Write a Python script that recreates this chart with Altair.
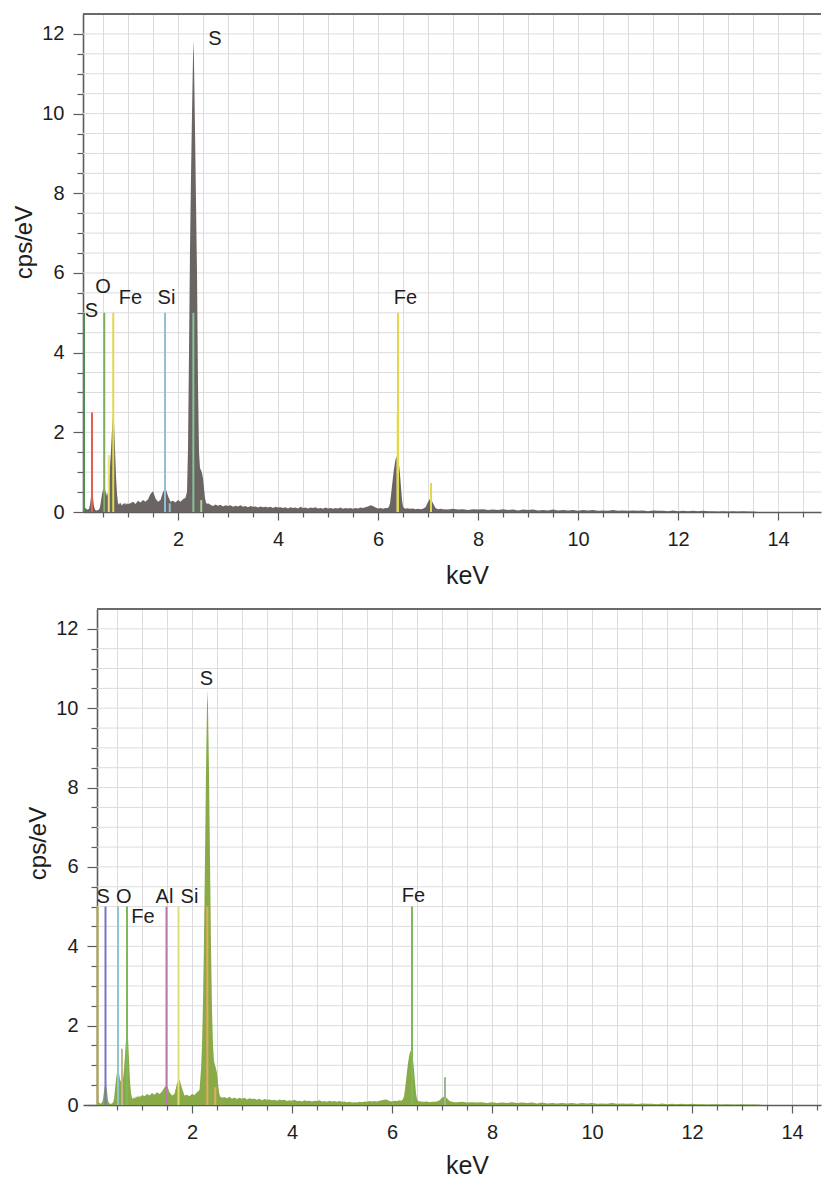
import altair as alt
import pandas as pd

# ---------------- energy channels (keV) ----------------
E_A = [0.10, 0.12, 0.14, 0.16, 0.18, 0.20, 0.22, 0.24, 0.26, 0.28, 0.30, 0.32, 0.34, 0.36, 0.38,
       0.40, 0.42, 0.44, 0.46, 0.48, 0.50, 0.52, 0.54, 0.56, 0.58, 0.60, 0.62, 0.64, 0.66, 0.68,
       0.70, 0.72, 0.74, 0.76, 0.78, 0.80, 0.82, 0.84, 0.86, 0.88, 0.90, 0.92, 0.94, 0.96, 0.98, 1.00]
E_B = [1.05, 1.10, 1.15, 1.20, 1.25, 1.30, 1.35, 1.40, 1.45, 1.50, 1.55, 1.60, 1.65, 1.70, 1.75,
       1.80, 1.85, 1.90, 1.95, 2.00, 2.05, 2.10, 2.15]
E_C = [2.18, 2.20, 2.22, 2.24, 2.26, 2.28, 2.30, 2.31, 2.32, 2.34, 2.36, 2.38, 2.40, 2.42, 2.44,
       2.46, 2.48, 2.50, 2.52, 2.54, 2.56, 2.58, 2.60]
E_D = [2.65, 2.70, 2.75, 2.80, 2.85, 2.90, 2.95, 3.00, 3.05, 3.10, 3.15, 3.20, 3.25, 3.30, 3.35,
       3.40, 3.45, 3.50, 3.55, 3.60, 3.65, 3.70, 3.75, 3.80, 3.85, 3.90, 3.95, 4.00, 4.05, 4.10,
       4.15, 4.20, 4.25, 4.30, 4.35, 4.40, 4.45, 4.50, 4.55, 4.60, 4.65, 4.70, 4.75, 4.80, 4.85,
       4.90, 4.95, 5.00, 5.05, 5.10, 5.15, 5.20, 5.25, 5.30, 5.35, 5.40, 5.45, 5.50, 5.55, 5.60,
       5.65, 5.70, 5.75, 5.80, 5.85, 5.90, 5.95, 6.00, 6.05, 6.10, 6.15]
E_E = [6.18, 6.20, 6.22, 6.24, 6.26, 6.28, 6.30, 6.32, 6.34, 6.36, 6.38, 6.40, 6.42, 6.44, 6.46,
       6.48, 6.50, 6.52, 6.54, 6.56, 6.58, 6.60, 6.62]
E_F = [6.65, 6.70, 6.75, 6.80, 6.85, 6.90, 6.95, 7.00, 7.05, 7.10, 7.15, 7.20, 7.25]
E_G = [7.3, 7.4, 7.5, 7.6, 7.7, 7.8, 7.9, 8.0, 8.1, 8.2, 8.3, 8.4, 8.5, 8.6, 8.7, 8.8, 8.9, 9.0,
       9.1, 9.2, 9.3, 9.4, 9.5, 9.6, 9.7, 9.8, 9.9, 10.0, 10.1, 10.2, 10.3, 10.4, 10.5, 10.6, 10.7,
       10.8, 10.9, 11.0, 11.1, 11.2, 11.3, 11.4, 11.5, 11.6, 11.7, 11.8, 11.9, 12.0, 12.1, 12.2,
       12.3, 12.4, 12.5, 12.6, 12.7, 12.8, 12.9, 13.0, 13.1, 13.2, 13.3, 13.4, 13.5, 13.6]

# ---------------- upper spectrum (grey), cps/eV ----------------
TOP_A = [0.05, 0.10, 0.12, 0.08, 0.06, 0.06, 0.08, 0.18, 0.38, 0.50, 0.36, 0.14, 0.06, 0.04, 0.04,
         0.05, 0.06, 0.12, 0.28, 0.45, 0.55, 0.58, 0.56, 0.48, 0.40, 0.50, 0.80, 1.15, 1.55, 2.05,
         2.40, 2.25, 1.60, 0.90, 0.45, 0.22, 0.18, 0.24, 0.20, 0.16, 0.22, 0.19, 0.24, 0.18, 0.22, 0.20]
TOP_B = [0.22, 0.26, 0.20, 0.28, 0.24, 0.30, 0.26, 0.32, 0.45, 0.52, 0.34, 0.26, 0.30, 0.50, 0.60,
         0.40, 0.26, 0.28, 0.24, 0.30, 0.26, 0.32, 0.36]
TOP_C = [0.50, 1.60, 4.00, 6.60, 8.40, 10.00, 11.40, 11.85, 11.30, 9.60, 7.80, 6.00, 3.20, 1.50, 1.10,
         1.05, 0.98, 0.85, 0.60, 0.35, 0.24, 0.20, 0.22]
TOP_D = [0.18, 0.15, 0.19, 0.16, 0.18, 0.14, 0.17, 0.15, 0.17, 0.13, 0.16, 0.14, 0.17, 0.13, 0.15,
         0.12, 0.15, 0.13, 0.14, 0.11, 0.14, 0.12, 0.13, 0.11, 0.13, 0.10, 0.13, 0.11, 0.12, 0.10,
         0.12, 0.09, 0.12, 0.10, 0.11, 0.09, 0.13, 0.10, 0.11, 0.09, 0.11, 0.10, 0.12, 0.09, 0.10,
         0.08, 0.11, 0.09, 0.10, 0.08, 0.10, 0.09, 0.11, 0.08, 0.10, 0.09, 0.10, 0.08, 0.10, 0.09,
         0.11, 0.10, 0.12, 0.14, 0.17, 0.15, 0.11, 0.09, 0.10, 0.08, 0.10]
TOP_E = [0.10, 0.10, 0.14, 0.22, 0.42, 0.65, 0.88, 1.08, 1.25, 1.36, 1.39, 1.36, 1.20, 0.95, 0.62,
         0.30, 0.14, 0.10, 0.09, 0.08, 0.10, 0.08, 0.09]
TOP_F = [0.08, 0.09, 0.07, 0.08, 0.07, 0.08, 0.12, 0.25, 0.35, 0.22, 0.10, 0.07, 0.08]
TOP_G = [0.07, 0.06, 0.08, 0.06, 0.07, 0.05, 0.07, 0.06, 0.07, 0.05, 0.06, 0.05, 0.07, 0.05, 0.06,
         0.04, 0.06, 0.05, 0.06, 0.04, 0.05, 0.04, 0.06, 0.04, 0.05, 0.04, 0.05, 0.03, 0.05, 0.04,
         0.05, 0.03, 0.04, 0.03, 0.05, 0.03, 0.04, 0.03, 0.04, 0.03, 0.04, 0.02, 0.04, 0.03, 0.03,
         0.02, 0.04, 0.02, 0.03, 0.02, 0.03, 0.02, 0.03, 0.02, 0.02, 0.01, 0.02, 0.01, 0.02, 0.01,
         0.02, 0.01, 0.01, 0.00]

# ---------------- lower spectrum (green), cps/eV ----------------
BOT_A = [0.05, 0.08, 0.06, 0.04, 0.04, 0.06, 0.15, 0.35, 0.50, 0.52, 0.35, 0.12, 0.05, 0.03, 0.03,
         0.04, 0.06, 0.15, 0.40, 0.65, 0.82, 0.88, 0.80, 0.65, 0.58, 0.62, 0.65, 0.90, 1.25, 1.65,
         1.87, 1.70, 1.15, 0.60, 0.30, 0.18, 0.15, 0.20, 0.16, 0.22, 0.18, 0.24, 0.19, 0.23, 0.21, 0.26]
BOT_B = [0.22, 0.28, 0.24, 0.30, 0.26, 0.32, 0.28, 0.34, 0.45, 0.50, 0.32, 0.24, 0.28, 0.55, 0.64,
         0.42, 0.24, 0.26, 0.22, 0.28, 0.25, 0.32, 0.38]
BOT_C = [0.90, 1.50, 2.60, 4.20, 6.20, 8.40, 10.10, 10.45, 10.00, 8.40, 6.20, 4.00, 2.40, 1.50, 1.10,
         1.00, 0.92, 0.80, 0.55, 0.32, 0.22, 0.20, 0.18]
BOT_D = [0.20, 0.17, 0.21, 0.16, 0.19, 0.15, 0.18, 0.16, 0.18, 0.14, 0.17, 0.15, 0.16, 0.13, 0.16,
         0.12, 0.15, 0.13, 0.14, 0.12, 0.13, 0.11, 0.14, 0.12, 0.13, 0.10, 0.12, 0.11, 0.13, 0.10,
         0.11, 0.09, 0.12, 0.10, 0.11, 0.09, 0.11, 0.10, 0.12, 0.09, 0.10, 0.08, 0.11, 0.09, 0.10,
         0.08, 0.10, 0.08, 0.09, 0.07, 0.08, 0.06, 0.07, 0.06, 0.08, 0.07, 0.09, 0.08, 0.10, 0.09,
         0.10, 0.09, 0.11, 0.12, 0.14, 0.13, 0.10, 0.09, 0.11, 0.10, 0.12]
BOT_E = [0.11, 0.12, 0.15, 0.22, 0.40, 0.62, 0.85, 1.05, 1.22, 1.33, 1.37, 1.33, 1.15, 0.90, 0.58,
         0.30, 0.15, 0.10, 0.09, 0.10, 0.08, 0.09, 0.08]
BOT_F = [0.08, 0.09, 0.07, 0.08, 0.08, 0.09, 0.12, 0.18, 0.22, 0.17, 0.10, 0.08, 0.07]
BOT_G = [0.07, 0.08, 0.06, 0.07, 0.06, 0.07, 0.05, 0.07, 0.05, 0.06, 0.05, 0.07, 0.05, 0.06, 0.05,
         0.06, 0.04, 0.06, 0.04, 0.05, 0.04, 0.05, 0.04, 0.05, 0.03, 0.05, 0.04, 0.05, 0.03, 0.04,
         0.03, 0.05, 0.03, 0.04, 0.03, 0.04, 0.02, 0.04, 0.03, 0.03, 0.02, 0.04, 0.02, 0.03, 0.02,
         0.03, 0.02, 0.03, 0.02, 0.02, 0.01, 0.02, 0.02, 0.01, 0.02, 0.01, 0.01, 0.02, 0.01, 0.01,
         0.01, 0.00, 0.00, 0.00]

ENERGY = E_A + E_B + E_C + E_D + E_E + E_F + E_G
TOP_CPS = TOP_A + TOP_B + TOP_C + TOP_D + TOP_E + TOP_F + TOP_G
BOT_CPS = BOT_A + BOT_B + BOT_C + BOT_D + BOT_E + BOT_F + BOT_G

# ---------------- element marker lines ----------------
TOP_LINE_KEV = [0.12, 0.28, 0.525, 0.615, 0.705, 1.74, 1.835, 2.307, 2.465, 6.39, 6.40, 7.06]
TOP_LINE_H = [5.0, 2.5, 5.0, 1.43, 5.0, 5.0, 0.22, 5.0, 0.30, 2.5, 5.0, 0.73]
TOP_LINE_COL = ["#4f8f55", "#e06050", "#7fae5f", "#ece27a", "#e2d84e", "#93bfd2", "#93bfd2",
                "#86c49a", "#a6d39a", "#f0e68a", "#e2d84e", "#e2d84e"]

BOT_LINE_KEV = [0.11, 0.27, 0.52, 0.60, 0.70, 1.49, 1.73, 2.307, 2.465, 6.40, 7.06]
BOT_LINE_H = [5.0, 5.0, 5.0, 1.42, 5.0, 5.0, 5.0, 5.0, 0.45, 5.0, 0.70]
BOT_LINE_COL = ["#b0a44c", "#7474c4", "#8cc4d8", "#c8b48a", "#7cb85c", "#b47ab0", "#e2dc72",
                "#e8a860", "#e8a860", "#7cb85c", "#9cb49c"]

# ---------------- peak labels ----------------
TOP_LABELS = ["S", "O", "Fe", "Si", "S", "Fe"]
TOP_LABEL_KEV = [0.27, 0.50, 1.05, 1.77, 2.74, 6.55]
TOP_LABEL_CPS = [5.04, 5.65, 5.36, 5.36, 11.86, 5.37]

BOT_LABELS = ["S", "O", "Fe", "Al", "Si", "S", "Fe"]
BOT_LABEL_KEV = [0.224, 0.634, 1.02, 1.45, 1.95, 2.29, 6.43]
BOT_LABEL_CPS = [5.23, 5.23, 4.75, 5.25, 5.25, 10.74, 5.26]

# ---------------- axes ----------------
Y_TICKS = [0, 0.5, 1, 1.5, 2, 2.5, 3, 3.5, 4, 4.5, 5, 5.5, 6, 6.5, 7, 7.5, 8, 8.5, 9, 9.5,
           10, 10.5, 11, 11.5, 12]
Y_GRID = [0.5, 1, 1.5, 2, 2.5, 3, 3.5, 4, 4.5, 5, 5.5, 6, 6.5, 7, 7.5, 8, 8.5, 9, 9.5,
          10, 10.5, 11, 11.5, 12]
X_TICKS = [0.5, 1, 1.5, 2, 2.5, 3, 3.5, 4, 4.5, 5, 5.5, 6, 6.5, 7, 7.5, 8, 8.5, 9, 9.5, 10,
           10.5, 11, 11.5, 12, 12.5, 13, 13.5, 14, 14.5]
Y_MAX = 12.5
X_START = 0.1
TOP_X_DOMAIN = [0.1, 14.86]
BOT_X_DOMAIN = [-0.18, 14.58]

FONT = "Liberation Sans"
AXIS_COL = "#5c5c5c"
TEXT_COL = "#1e1e1e"
GRID_COL = "#dcdcdc"
PLOT_W = 738
EVEN = "abs(datum.value % 2) < 0.001"


def panel(cps, fill, l_kev, l_h, l_col, labels, lab_kev, lab_cps, x_dom, height, y_offset,
          x_title_y, y_title_y):
    xs = alt.Scale(domain=x_dom, nice=False, zero=False)
    ys = alt.Scale(domain=[0, Y_MAX], nice=False)

    x_axis = alt.Axis(
        title="keV", values=X_TICKS,
        labelExpr=EVEN + " ? format(datum.value, 'd') : ''",
        grid=True, gridColor=GRID_COL, gridWidth=1,
        domainColor=AXIS_COL, domainWidth=1.6, tickColor=AXIS_COL, tickWidth=1.2,
        tickSize={"condition": {"test": EVEN, "value": 8}, "value": 5},
        labelFont=FONT, labelFontSize=20, labelColor=TEXT_COL, labelPadding=9,
        labelOverlap=False, labelFlush=False,
        titleFont=FONT, titleFontSize=25, titleFontWeight="normal", titleColor=TEXT_COL,
        titleX=384, titleY=x_title_y, titleBaseline="middle")
    y_axis = alt.Axis(
        title="cps/eV", values=Y_TICKS,
        labelExpr=EVEN + " ? format(datum.value, 'd') : ''",
        grid=False, offset=y_offset,
        domainColor=AXIS_COL, domainWidth=1.6, tickColor=AXIS_COL, tickWidth=1.2,
        tickSize={"condition": {"test": EVEN, "value": 10}, "value": 6},
        labelFont=FONT, labelFontSize=20, labelColor=TEXT_COL, labelPadding=9,
        labelOverlap=False, labelFlush=False,
        titleFont=FONT, titleFontSize=24, titleFontWeight="normal", titleColor=TEXT_COL,
        titleX=-59, titleY=y_title_y, titleBaseline="middle")

    def X(field):
        return alt.X(field, scale=xs, axis=x_axis)

    def Y(field):
        return alt.Y(field, scale=ys, axis=y_axis)

    grid_df = pd.DataFrame({"y": Y_GRID, "x0": [X_START] * len(Y_GRID),
                            "x1": [x_dom[1]] * len(Y_GRID)})
    grid = alt.Chart(grid_df).mark_rule(color=GRID_COL, strokeWidth=1).encode(
        x=X("x0:Q"), x2="x1:Q", y=Y("y:Q"))

    spec_df = pd.DataFrame({"keV": ENERGY, "cps": cps})
    area = alt.Chart(spec_df).mark_area(color=fill, opacity=1, interpolate="linear",
                                        clip=True).encode(x=X("keV:Q"), y=Y("cps:Q"))

    lines_df = pd.DataFrame({"kev": l_kev, "h": l_h, "col": l_col, "base": [0] * len(l_kev)})
    lines = alt.Chart(lines_df).mark_rule(strokeWidth=2).encode(
        x=X("kev:Q"), y=Y("base:Q"), y2="h:Q",
        color=alt.Color("col:N", scale=None))

    lab_df = pd.DataFrame({"kev": lab_kev, "cps": lab_cps, "t": labels})
    texts = alt.Chart(lab_df).mark_text(font=FONT, fontSize=20, color=TEXT_COL,
                                        align="center", baseline="middle").encode(
        x=X("kev:Q"), y=Y("cps:Q"), text="t:N")

    frame_df = pd.DataFrame({"y": [Y_MAX], "x0": [X_START], "x1": [x_dom[1]]})
    frame = alt.Chart(frame_df).mark_rule(color="#6a6a6a", strokeWidth=2).encode(
        x=X("x0:Q"), x2="x1:Q", y=Y("y:Q"))

    return alt.layer(grid, area, lines, texts, frame).properties(width=PLOT_W, height=height)


top = panel(TOP_CPS, "#6a6462", TOP_LINE_KEV, TOP_LINE_H, TOP_LINE_COL,
            TOP_LABELS, TOP_LABEL_KEV, TOP_LABEL_CPS, TOP_X_DOMAIN, 498, 0, 63, 228)
bottom = panel(BOT_CPS, "#88ab48", BOT_LINE_KEV, BOT_LINE_H, BOT_LINE_COL,
               BOT_LABELS, BOT_LABEL_KEV, BOT_LABEL_CPS, BOT_X_DOMAIN, 496, -14, 60, 234)

chart = alt.vconcat(top, bottom, spacing=20).properties(
    padding={"left": 12, "top": 13, "right": 0, "bottom": 0},
    background="white",
).configure_view(stroke=None)

chart.save("out.html", embed_options={"renderer": "svg", "actions": False})
